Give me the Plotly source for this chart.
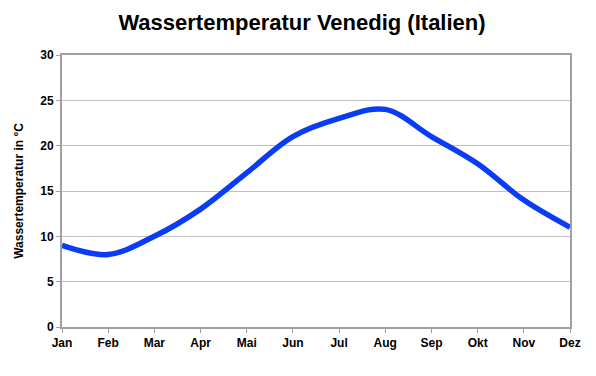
import plotly.graph_objects as go

months = ["Jan", "Feb", "Mar", "Apr", "Mai", "Jun", "Jul", "Aug", "Sep", "Okt", "Nov", "Dez"]
temps = [9, 8, 10, 13, 17, 21, 23, 24, 21, 18, 14, 11]
y_ticks = [0, 5, 10, 15, 20, 25, 30]

font = "Liberation Sans, Arial, sans-serif"

fig = go.Figure()
fig.add_trace(go.Scatter(
    x=months, y=temps, mode="lines",
    line=dict(color="#0a3cf5", width=5.5, shape="spline", smoothing=1.0),
    hoverinfo="x+y",
))

# page body has an 8px default margin, so the figure is sized to fit the window
fig.update_layout(
    width=588, height=368,
    margin=dict(l=54, r=26, t=47, b=49),
    paper_bgcolor="white", plot_bgcolor="white",
    showlegend=False,
    title=dict(text="<b>Wassertemperatur Venedig (Italien)</b>", x=0.5, xanchor="center",
               y=0.962, yanchor="middle",
               font=dict(family=font, size=22, color="black")),
    font=dict(family=font, size=12, color="black"),
)
fig.update_xaxes(
    type="category", range=[0, 11],
    showgrid=False, showline=True, linecolor="#a0a0a0", linewidth=2, mirror=True,
    ticks="outside", ticklen=4, tickcolor="#a0a0a0", automargin=False,
    tickfont=dict(family=font, size=12, color="black", weight="bold"),
)
fig.update_yaxes(
    range=[0, 30], tickvals=y_ticks,
    showgrid=True, gridcolor="#c0c0c0", gridwidth=1,
    showline=True, linecolor="#a0a0a0", linewidth=2, mirror=True,
    ticks="outside", ticklen=4, tickcolor="#a0a0a0", zeroline=False, automargin=False,
    tickfont=dict(family=font, size=12, color="black", weight="bold"),
    title=dict(text="<b>Wassertemperatur in °C</b>", font=dict(family=font, size=12, color="black"), standoff=14),
)

fig.write_html("out.html")
